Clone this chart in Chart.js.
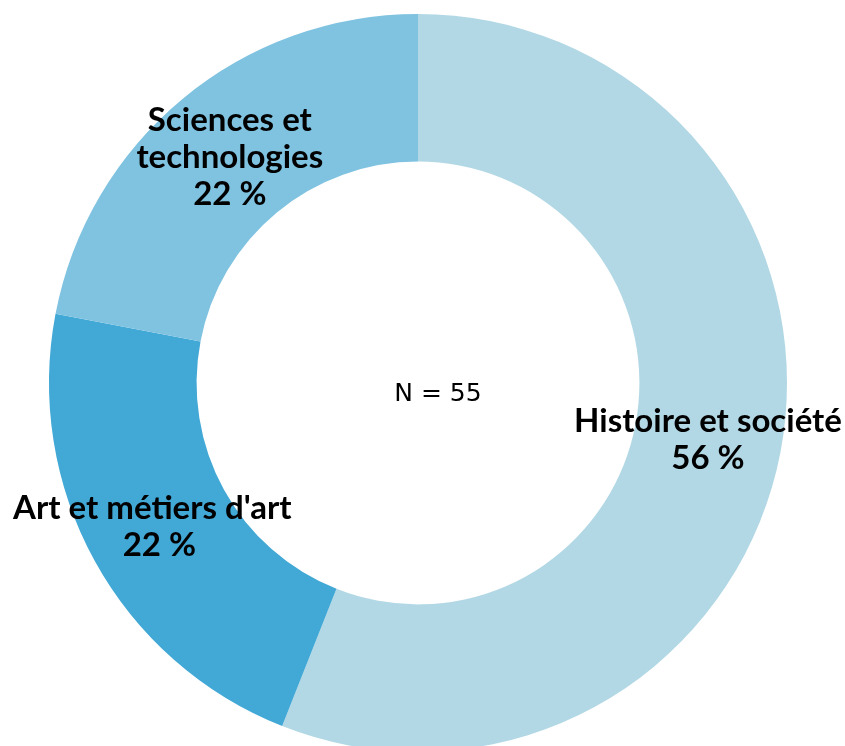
<!DOCTYPE html>
<html>
<head>
<meta charset="utf-8">
<script src="https://cdn.jsdelivr.net/npm/chart.js@4"></script>
<style>
  html, body { margin: 0; padding: 0; background: #fff; overflow: hidden; }
  #wrap { position: relative; width: 845px; height: 766px; }
</style>
</head>
<body>
<div id="wrap"><canvas id="donut"></canvas></div>
<script>
// ===== DATA =====
const categories = [
    ["Histoire et société"],
    ["Art et métiers d'art"],
    ["Sciences et", "technologies"]
];
const shares = [56, 22, 22];
const colors = ["#b2d8e5", "#42a8d6", "#7fc3e1"];
const centerText = "N = 55";

// ===== LABEL PLUGIN =====
const sliceLabels = {
    id: "sliceLabels",
    afterDraw(chart, args, opts) {
        const ctx = chart.ctx;
        const meta = chart.getDatasetMeta(0);
        const lineH = 37;
        ctx.save();
        ctx.fillStyle = "#000";
        ctx.textAlign = "center";
        ctx.textBaseline = "middle";
        ctx.font = "bold 33px Lato";
        meta.data.forEach((arc, i) => {
            const pos = arc.tooltipPosition();
            const dx = (opts.nudgeX && opts.nudgeX[i]) || 0;
            const names = categories[i];
            const lines = names.concat([shares[i] + " %"]);
            const top = pos.y + 2 - (lines.length - 1) * lineH / 2;
            lines.forEach((txt, j) => {
                // only the category name lines get nudged, not the percentage
                const x = j < names.length ? pos.x + dx : pos.x;
                ctx.fillText(txt, x, top + j * lineH);
            });
        });
        const arc0 = meta.data[0];
        ctx.font = "25px 'DejaVu Sans'";
        ctx.fillText(centerText, arc0.x + 20, arc0.y + 11);
        ctx.restore();
    }
};

new Chart(document.getElementById("donut"), {
    type: "doughnut",
    data: {
        labels: categories.map(l => l.join(" ")),
        datasets: [{
            data: shares,
            backgroundColor: colors,
            borderWidth: 0
        }]
    },
    options: {
        responsive: true,
        maintainAspectRatio: false,
        animation: false,
        cutout: "60%",
        layout: { padding: { left: 14, right: 23, top: 14, bottom: 14 } },
        plugins: {
            legend: { display: false },
            tooltip: { enabled: false },
            sliceLabels: { nudgeX: [0, -7, 0] }
        }
    },
    plugins: [sliceLabels]
});
</script>
</body>
</html>
